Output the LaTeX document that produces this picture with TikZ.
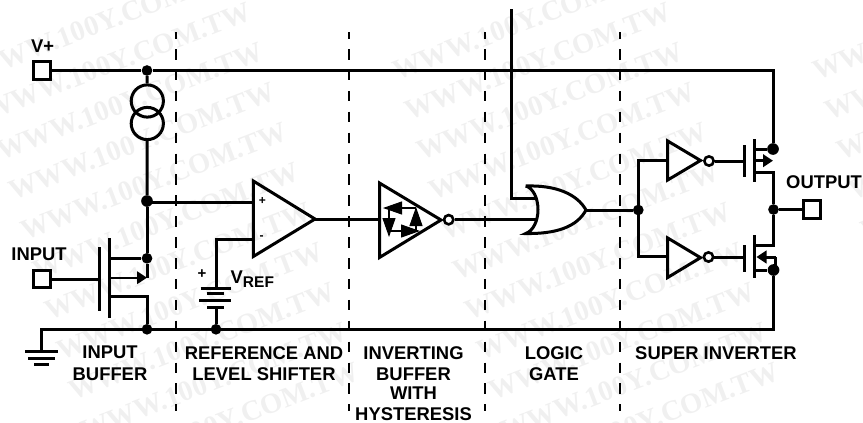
\documentclass[tikz,border=0pt]{standalone}
\usepackage{fontspec}
\setmainfont{Liberation Sans}
\newfontfamily\markfont{Liberation Serif}
\usepackage{tikz}
\usetikzlibrary{arrows.meta}
\tikzstyle{wire}=[line width=3pt]
\tikzstyle{thinwire}=[line width=1.1pt]
\tikzstyle{divider}=[line width=2.9pt, dash pattern=on 10.5pt off 10.4pt, dash phase=3.9pt]
\tikzstyle{pin}=[rectangle, draw, line width=3pt, fill=white, minimum size=17.5pt, inner sep=0pt]
\tikzstyle{dot}=[circle, fill, minimum size=10.7pt, inner sep=0pt]
\tikzstyle{bigdot}=[circle, fill, minimum size=11.7pt, inner sep=0pt]
\tikzstyle{bubble}=[circle, draw, line width=2.6pt, fill=white, minimum size=9.3pt, inner sep=0pt]
\tikzstyle{source}=[circle, draw, line width=3pt, minimum size=32.2pt, inner sep=0pt]
\tikzstyle{head}=[-{Triangle[length=10pt,width=12.5pt]}]
\tikzstyle{hyshead}=[-{Triangle[length=19pt,width=13pt]}]
\tikzstyle{label}=[font=\bfseries\fontsize{18.4}{21.5}\selectfont, inner sep=0pt, align=center, anchor=north]
\tikzstyle{stamp}=[font=\markfont\bfseries\fontsize{28.6}{30}\selectfont, text=black!6, rotate=21, inner sep=0pt]
\begin{document}
\begin{tikzpicture}[x=1pt, y=-1pt]
  \useasboundingbox (0,0) rectangle (863,423);
  % background stamps
  \foreach \r in {0,...,10} {
    \foreach \c in {0,1,2} {
      \node[stamp] (mark\r\c) at ({106+12*\r+420*\c},{21+40*\r}) {WWW.100Y.COM.TW};
    }
  }
  % dividers
  \foreach \x/\n in {176/a, 349/b, 485/c, 620/d} {
    \coordinate (divtop\n) at (\x,32);
    \coordinate (divbot\n) at (\x,411);
    \draw[divider] (divtop\n) -- (divbot\n);
  }
  % supply and ground
  \node[pin] (pinvplus) at (42,70.5){};
  \node[pin] (pinin) at (42,279){};
  \node[pin] (pinout) at (812,209.5){};
  \node[dot] (dotvplus) at (147,70.5){};
  \node[bigdot] (dotfirst) at (147,201){};
  \node[dot] (dotdrain) at (147,258.3){};
  \node[dot] (dotgnd) at (147,329.3){};
  \node[dot] (dotbatt) at (216,329.3){};
  \node[dot] (dotsplit) at (638.3,210){};
  \node[dot] (dotout) at (773.5,209.5){};
  \node[bigdot] (dottop) at (773,149){};
  \node[bigdot] (dotlow) at (773.5,270){};
  \coordinate (railend) at (773,70.5);
  \coordinate (gndend) at (773.5,329.3);
  \coordinate (gndcorner) at (41,329.3);
  \coordinate (gndstub) at (41,351);
  \draw[wire] (pinvplus) -- (dotvplus);
  \draw[wire] (dotvplus) -- (railend) -- (dottop);
  \draw[wire] (gndstub) -- (gndcorner) -- (gndend) -- (dotlow);
  % ground symbol
  \coordinate (gnda) at (25,351); \coordinate (gndb) at (58,351);
  \coordinate (gndc) at (28,358.3); \coordinate (gndd) at (55,358.3);
  \coordinate (gnde) at (34,364.3); \coordinate (gndf) at (49,364.3);
  \draw[wire] (gnda) -- (gndb);
  \draw[wire] (gndc) -- (gndd);
  \draw[wire] (gnde) -- (gndf);
  % current source
  \node[source] (srctop) at (147.3,101){};
  \node[source] (srclow) at (147.3,123.5){};
  \draw[wire] (dotvplus) -- (srctop);
  \draw[wire] (srclow) -- (dotfirst);
  \draw[wire] (dotfirst) -- (dotdrain);
  % input transistor
  \coordinate (ingate) at (99.3,279);
  \coordinate (ingatea) at (99.3,247); \coordinate (ingateb) at (99.3,311);
  \coordinate (inchana) at (109.3,238); \coordinate (inchanb) at (109.3,318);
  \coordinate (indrain) at (109.3,258.3);
  \coordinate (insrc) at (109.3,277.7); \coordinate (insrcend) at (147,277.7);
  \coordinate (inbody) at (109.3,296); \coordinate (inbodyend) at (147,296);
  \draw[wire] (pinin) -- (ingate);
  \draw[wire] (ingatea) -- (ingateb);
  \draw[wire] (inchana) -- (inchanb);
  \draw[wire] (indrain) -- (dotdrain);
  \draw[wire] (dotdrain) -- (insrcend);
  \draw[line width=2pt, head] (insrc) -- (insrcend);
  \draw[wire] (inbody) -- (inbodyend) -- (dotgnd);
  % comparator
  \coordinate (cmpa) at (253.3,181); \coordinate (cmpb) at (253.3,256.5); \coordinate (cmptip) at (315,219);
  \coordinate (cmpplus) at (253.3,202); \coordinate (cmpminus) at (253.3,239);
  \coordinate (vrefcorner) at (216,239); \coordinate (battp) at (216,288); \coordinate (battn) at (216,307);
  \draw[wire] (dotfirst |- cmpplus) -- (cmpplus);
  \draw[wire, line join=miter] (cmpa) -- (cmpb) -- (cmptip) -- cycle;
  \draw[wire] (cmpminus) -- (vrefcorner) -- (battp);
  \draw[wire] (battn) -- (dotbatt);
  \node[font=\bfseries\fontsize{12}{12}\selectfont, inner sep=0pt] (plussign) at (262.5,201){+};
  \node[font=\bfseries\fontsize{12}{12}\selectfont, inner sep=0pt] (minussign) at (261.5,238){-};
  % battery
  \coordinate (bata) at (200.7,288); \coordinate (batb) at (230.7,288);
  \coordinate (batc) at (206.7,293.7); \coordinate (batd) at (224,293.7);
  \coordinate (bate) at (199,300.3); \coordinate (batf) at (230.7,300.3);
  \coordinate (batg) at (207,307); \coordinate (bath) at (224,307);
  \draw[wire] (bata) -- (batb);
  \draw[wire] (batc) -- (batd);
  \draw[wire] (bate) -- (batf);
  \draw[wire] (batg) -- (bath);
  \node[font=\bfseries\fontsize{15}{15}\selectfont, inner sep=0pt] (battplus) at (202,274){+};
  \node[label, anchor=base west] (vreflabel) at (230.5,283.5){V\raisebox{-4pt}{\fontsize{15.5}{15.5}\selectfont REF}};
  % hysteresis buffer
  \coordinate (bufa) at (379.5,183); \coordinate (bufb) at (379.5,257.5); \coordinate (buftip) at (441,220);
  \coordinate (bufin) at (379.5,219);
  \draw[wire] (cmptip) -- (bufin);
  \draw[wire, line join=miter] (bufa) -- (bufb) -- (buftip) -- cycle;
  \node[bubble] (bufbubble) at (448.7,219.7){};
  \coordinate (hysa) at (416,208); \coordinate (hysb) at (383,208);
  \coordinate (hysc) at (389,208); \coordinate (hysd) at (389,237);
  \coordinate (hyse) at (389,231); \coordinate (hysf) at (420,231);
  \coordinate (hysg) at (416,231); \coordinate (hysh) at (416,207);
  \draw[thinwire, hyshead] (hysa) -- (hysb);
  \draw[thinwire, hyshead] (hysc) -- (hysd);
  \draw[thinwire, hyshead] (hyse) -- (hysf);
  \draw[thinwire, hyshead] (hysg) -- (hysh);
  % logic gate
  \coordinate (orntop) at (525.7,186); \coordinate (ornlow) at (525.7,233.5);
  \coordinate (ornback) at (538,209.7); \coordinate (orntip) at (586,210);
  \coordinate (oriny) at (511.7,9); \coordinate (orinelbow) at (511.7,198); \coordinate (orina) at (535,198);
  \coordinate (orinb) at (537,219.7);
  \draw[wire] (oriny) -- (orinelbow) -- (orina);
  \draw[wire] (bufbubble) -- (orinb);
  \draw[wire, fill=white] (orntop) .. controls (533,188) and (538,198) .. (ornback)
    .. controls (538,221) and (533,231) .. (ornlow)
    .. controls (556,234) and (577,227) .. (orntip)
    .. controls (577,194) and (556,185) .. (orntop);
  \draw[wire] (orntip) -- (dotsplit);
  % inverters
  \coordinate (invtopa) at (667.7,141); \coordinate (invtopb) at (667.7,180); \coordinate (invtoptip) at (700.5,160.5);
  \coordinate (invlowa) at (667.7,238); \coordinate (invlowb) at (667.7,277.5); \coordinate (invlowtip) at (700.5,257.7);
  \coordinate (invtopin) at (667.7,160.5); \coordinate (invlowin) at (667.7,256.5);
  \coordinate (splittop) at (638.3,160.5); \coordinate (splitlow) at (638.3,256.5);
  \draw[wire] (invtopin) -- (splittop) -- (splitlow) -- (invlowin);
  \draw[wire, line join=miter] (invtopa) -- (invtopb) -- (invtoptip) -- cycle;
  \draw[wire, line join=miter] (invlowa) -- (invlowb) -- (invlowtip) -- cycle;
  \node[bubble] (bubtop) at (709,161){};
  \node[bubble] (bublow) at (708.5,257){};
  % output transistors
  \coordinate (gatetop) at (744.5,161); \coordinate (gatelow) at (744.5,257);
  \coordinate (gatetopa) at (744.5,145); \coordinate (gatetopb) at (744.5,176.5);
  \coordinate (gatelowa) at (744.5,245); \coordinate (gatelowb) at (744.5,272);
  \coordinate (chantopa) at (754.5,139); \coordinate (chantopb) at (754.5,182);
  \coordinate (chanlowa) at (754.5,235); \coordinate (chanlowb) at (754.5,278);
  \coordinate (tdrain) at (754.5,149);
  \coordinate (tsrc) at (754.5,160.7); \coordinate (tsrcend) at (773,160.7);
  \coordinate (tbody) at (754.5,172.5); \coordinate (tbodyend) at (773.5,172.5);
  \coordinate (ldrain) at (754.5,245.5); \coordinate (ldrainend) at (773.5,245.5);
  \coordinate (lsrc) at (775.5,257); \coordinate (lsrcend) at (756.5,257);
  \coordinate (lbody) at (754.5,270);
  \coordinate (lcorner) at (775.5,268);
  \draw[wire] (bubtop) -- (gatetop);
  \draw[wire] (bublow) -- (gatelow);
  \draw[wire] (gatetopa) -- (gatetopb);
  \draw[wire] (gatelowa) -- (gatelowb);
  \draw[wire] (chantopa) -- (chantopb);
  \draw[wire] (chanlowa) -- (chanlowb);
  \draw[wire] (tdrain) -- (dottop);
  \draw[wire, head] (tsrc) -- (tsrcend);
  \draw[wire] (tbody) -- (tbodyend) -- (dotout);
  \draw[wire] (ldrain) -- (ldrainend) -- (dotout);
  \draw[wire, head] (lsrc) -- (lsrcend);
  \draw[wire] (lsrc) -- (lcorner);
  \draw[wire] (lbody) -- (dotlow);
  \draw[wire] (dotout) -- (pinout);
  % labels
  \node[label] (lblvplus) at (42.7,40){V+};
  \node[label] (lblinput) at (39,248){INPUT};
  \node[label] (lbloutput) at (824,175){OUTPUT};
  \node[label] (lblinbuf) at (110,346){INPUT\\BUFFER};
  \node[label] (lblref) at (264,346){REFERENCE AND\\LEVEL SHIFTER};
  \node[label] (lblinv) at (413.5,346){INVERTING\\BUFFER\\[-3pt]WITH\\[-0.5pt]HYSTERESIS};
  \node[label] (lbllogic) at (554,346){LOGIC\\GATE};
  \node[label] (lblsuper) at (716,346){SUPER INVERTER};
\end{tikzpicture}
\end{document}
